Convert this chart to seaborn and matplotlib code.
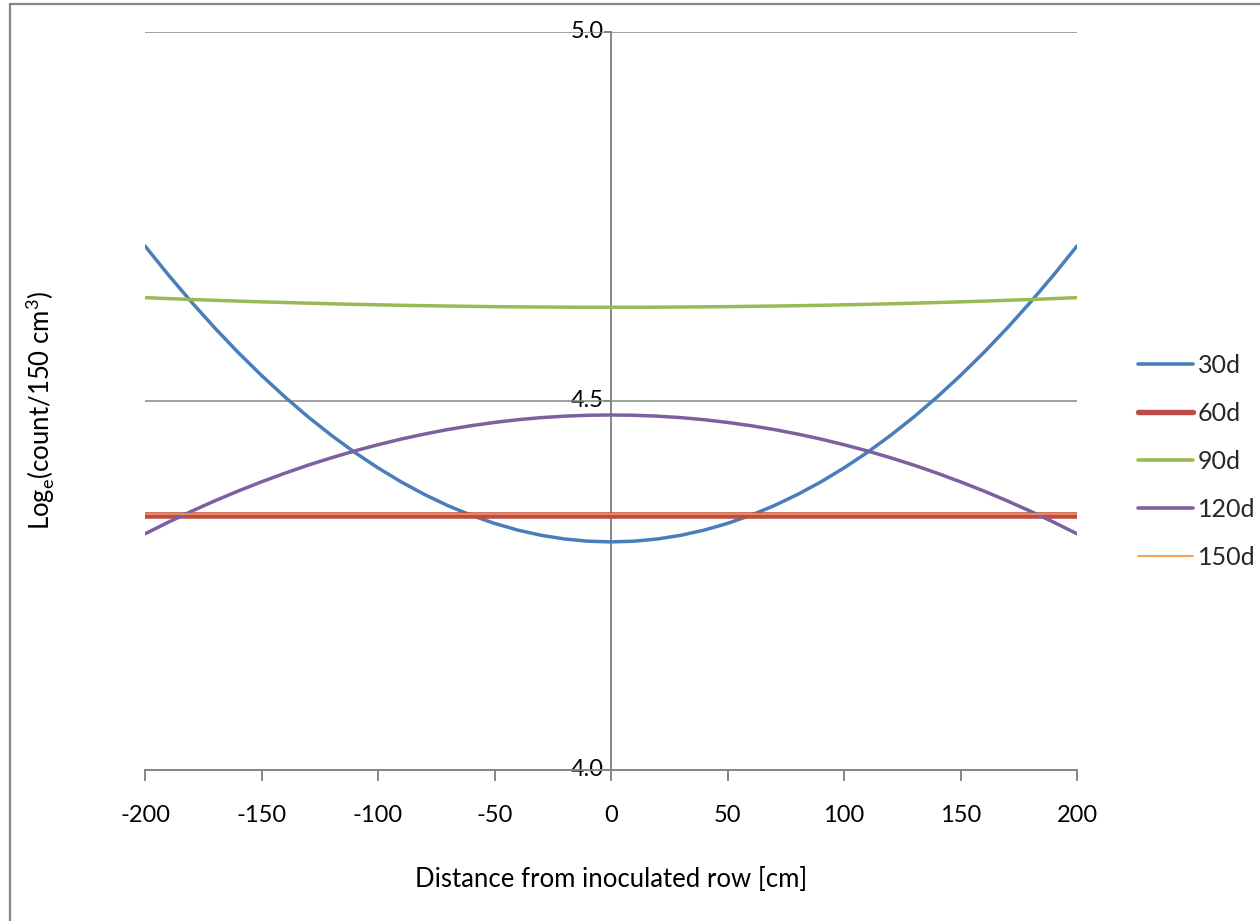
import numpy as np
import pandas as pd
import matplotlib
matplotlib.use("Agg")
import matplotlib.pyplot as plt
import seaborn as sns

# Distance from the inoculated row (cm)
distance = list(range(-200, 201, 10))

# Fitted log counts per sampling time
d30 = [4.7100, 4.6709, 4.6338, 4.5987, 4.5656, 4.5346, 4.5055, 4.4784, 4.4534, 4.4303,
       4.4093, 4.3902, 4.3732, 4.3581, 4.3451, 4.3341, 4.3250, 4.3180, 4.3130, 4.3100,
       4.3090,
       4.3100, 4.3130, 4.3180, 4.3250, 4.3341, 4.3451, 4.3581, 4.3732, 4.3902, 4.4093,
       4.4303, 4.4534, 4.4784, 4.5055, 4.5346, 4.5656, 4.5987, 4.6338, 4.6709, 4.7100]
d60 = [4.346] * 41
d90 = [4.6400, 4.6387, 4.6375, 4.6364, 4.6353, 4.6343, 4.6334, 4.6325, 4.6317, 4.6309,
       4.6303, 4.6296, 4.6291, 4.6286, 4.6282, 4.6278, 4.6275, 4.6273, 4.6271, 4.6270,
       4.6270,
       4.6270, 4.6271, 4.6273, 4.6275, 4.6278, 4.6282, 4.6286, 4.6291, 4.6296, 4.6303,
       4.6309, 4.6317, 4.6325, 4.6334, 4.6343, 4.6353, 4.6364, 4.6375, 4.6387, 4.6400]
d120 = [4.3200, 4.3357, 4.3506, 4.3647, 4.3780, 4.3904, 4.4021, 4.4130, 4.4230, 4.4323,
        4.4407, 4.4484, 4.4552, 4.4613, 4.4665, 4.4709, 4.4746, 4.4774, 4.4794, 4.4806,
        4.4810,
        4.4806, 4.4794, 4.4774, 4.4746, 4.4709, 4.4665, 4.4613, 4.4552, 4.4484, 4.4407,
        4.4323, 4.4230, 4.4130, 4.4021, 4.3904, 4.3780, 4.3647, 4.3506, 4.3357, 4.3200]
d150 = [4.347] * 41

series_names = ["30d", "60d", "90d", "120d", "150d"]
series_values = [d30, d60, d90, d120, d150]
colors = ["#4A7EBB", "#BE4B48", "#98B954", "#7D60A0", "#F79646"]
widths = [2.5, 4.7, 2.5, 2.5, 1.2]

x_ticks = [-200, -150, -100, -50, 0, 50, 100, 150, 200]
y_ticks = [4.0, 4.5, 5.0]

df = pd.DataFrame({
    "distance": np.tile(distance, len(series_names)),
    "value": np.concatenate(series_values),
    "series": np.repeat(series_names, len(distance)),
})

sns.set_theme(style="white")
plt.rcParams["font.family"] = ["Lato", "DejaVu Sans"]
plt.rcParams["mathtext.fontset"] = "custom"
plt.rcParams["mathtext.rm"] = "Lato"

fig = plt.figure(figsize=(12.6, 9.21), dpi=100)
ax = fig.add_axes([0.1151, 0.1640, 0.7397, 0.8013])

# Chart-area frame
fig.patches.append(plt.Rectangle((10 / 1260, -0.05), 1.2, 1.05 - 4 / 921,
                                 transform=fig.transFigure, fill=False,
                                 edgecolor="#868686", linewidth=1.6, zorder=0))

grid_col = "#868686"
for yv in y_ticks[1:]:
    ax.axhline(yv, color=grid_col, linewidth=1.1, zorder=1)

handles = []
for name, col, lw in zip(series_names, colors, widths):
    sub = df[df["series"] == name]
    sns.lineplot(data=sub, x="distance", y="value", ax=ax, color=col,
                 linewidth=lw, zorder=3, legend=False)
    handles.append(plt.Line2D([], [], color=col, linewidth=lw + (0.1 if lw < 3 else -0.8),
                              solid_capstyle="round"))

ax.set_xlim(-200, 200)
ax.set_ylim(4.0, 5.0)
ax.set_xticks(x_ticks)
ax.set_xticklabels([str(v) for v in x_ticks])
ax.set_yticks(y_ticks)
ax.set_yticklabels([f"{v:.1f}" for v in y_ticks])

for s in ["top", "right"]:
    ax.spines[s].set_visible(False)
ax.spines["left"].set_position(("data", 0))
ax.spines["left"].set_color(grid_col)
ax.spines["left"].set_linewidth(1.4)
ax.spines["left"].set_zorder(2)
ax.spines["bottom"].set_color(grid_col)
ax.spines["bottom"].set_linewidth(1.4)

ax.tick_params(axis="x", direction="out", length=8, width=1.4, color=grid_col,
               labelsize=17, pad=17, bottom=True, labelcolor="black")
ax.tick_params(axis="y", direction="out", length=5, width=1.4, color=grid_col,
               labelsize=17, pad=0, left=True, labelcolor="black")
for lbl in ax.get_yticklabels():
    lbl.set_verticalalignment("center")

ax.set_xlabel("Distance from inoculated row [cm]", fontsize=18.5, labelpad=30, color="black")
ax.set_ylabel("")
fig.text(40 / 1260, 1 - 410 / 921, r"Log$_\mathregular{e}$(count/150 cm$^\mathregular{3}$)",
         rotation=90, ha="center", va="center", fontsize=18.5, color="black")

leg = fig.legend(handles, series_names, loc="center left",
                 bbox_to_anchor=(1128 / 1260, 1 - 461 / 921), frameon=False,
                 fontsize=18, handlelength=2.2, handletextpad=0.2,
                 labelspacing=1.0, borderaxespad=0)

fig.savefig("out.png", dpi=100, facecolor="white")
